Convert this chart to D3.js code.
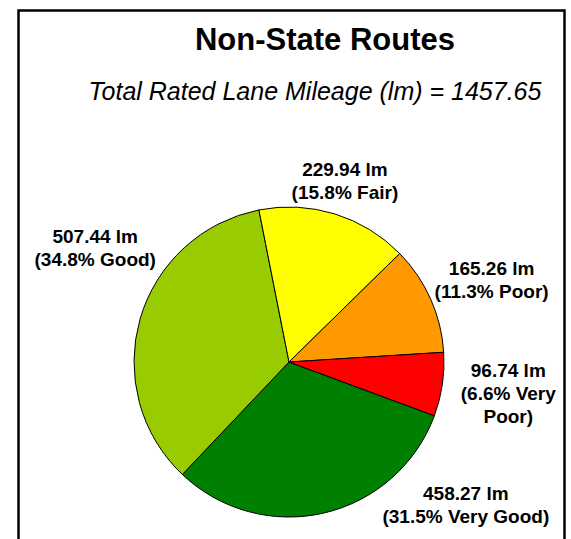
<!DOCTYPE html>
<html>
    <head>
        <title>Non-State Routes</title>
        <script src="https://cdn.jsdelivr.net/npm/d3@7"></script>
        <style>
            body { margin: 0; background: #fff; }
            text { font-family: "Liberation Sans", Arial, sans-serif; fill: #000; }
        </style>
    </head>
    <body>
        <div id="chart"></div>
        <script>
            const categories = ["Very Good", "Good", "Fair", "Poor", "Very Poor"];
            const laneMiles = [458.27, 507.44, 229.94, 165.26, 96.74];
            const percents = [31.5, 34.8, 15.8, 11.3, 6.6];
            const labelLines = [
                ["458.27 lm", "(31.5% Very Good)"],
                ["507.44 lm", "(34.8% Good)"],
                ["229.94 lm", "(15.8% Fair)"],
                ["165.26 lm", "(11.3% Poor)"],
                ["96.74 lm", "(6.6% Very", "Poor)"]
            ];
            const totalMiles = "1457.65";

            const colors = d3.scaleOrdinal()
                .domain(categories)
                .range(["#008000", "#99cc00", "#ffff00", "#ff9900", "#ff0000"]);

            // label spots: angle shift (deg) from slice middle, distance as share of radius
            const labelPlace = {
                "Very Good": [-37.8, 1.47],
                "Good": [14.3, 1.45],
                "Fair": [0, 1.22],
                "Poor": [2, 1.41],
                "Very Poor": [0, 1.43]
            };

            const w = 571;
            const h = 539;
            const cx = 289;
            const cy = 362;
            const r = 155;

            const svg = d3.select("#chart")
                .append("svg")
                .attr("width", w)
                .attr("height", h);

            svg.append("rect")
                .attr("x", 18.5)
                .attr("y", 10.5)
                .attr("width", 546)
                .attr("height", 540)
                .attr("fill", "none")
                .attr("stroke", "#000")
                .attr("stroke-width", 2.5);

            svg.append("text")
                .attr("x", 325)
                .attr("y", 50)
                .attr("text-anchor", "middle")
                .style("font-size", "31px")
                .style("font-weight", "bold")
                .text("Non-State Routes");

            svg.append("text")
                .attr("x", 315)
                .attr("y", 100)
                .attr("text-anchor", "middle")
                .style("font-size", "25px")
                .style("font-style", "italic")
                .text("Total Rated Lane Mileage (lm) = " + totalMiles);

            const startDeg = 110.3;
            const pie = d3.pie()
                .sort(null)
                .value((d) => d)
                .startAngle(startDeg * Math.PI / 180)
                .endAngle((startDeg + 360) * Math.PI / 180);

            const arcs = pie(laneMiles);
            const arc = d3.arc().innerRadius(0).outerRadius(r);

            const g = svg.append("g")
                .attr("transform", "translate(" + cx + "," + cy + ")");

            g.selectAll("path")
                .data(arcs)
                .enter()
                .append("path")
                .attr("d", arc)
                .attr("fill", (d, i) => colors(categories[i]))
                .attr("stroke", "#000")
                .attr("stroke-width", 1);

            const lineH = 23;
            g.selectAll(".lbl")
                .data(arcs)
                .enter()
                .append("text")
                .attr("class", "lbl")
                .attr("text-anchor", "middle")
                .style("font-size", "19px")
                .style("font-weight", "bold")
                .each(function (d, i) {
                    const place = labelPlace[categories[i]];
                    const a = (d.startAngle + d.endAngle) / 2 + place[0] * Math.PI / 180;
                    const dist = r * place[1];
                    const x = Math.sin(a) * dist;
                    const y = -Math.cos(a) * dist;
                    const lines = labelLines[i];
                    const top = y - (lines.length - 1) * lineH / 2 + 6;
                    d3.select(this).selectAll("tspan")
                        .data(lines)
                        .enter()
                        .append("tspan")
                        .attr("x", x)
                        .attr("y", (l, j) => top + j * lineH)
                        .text((l) => l);
                });
        </script>
    </body>
</html>
